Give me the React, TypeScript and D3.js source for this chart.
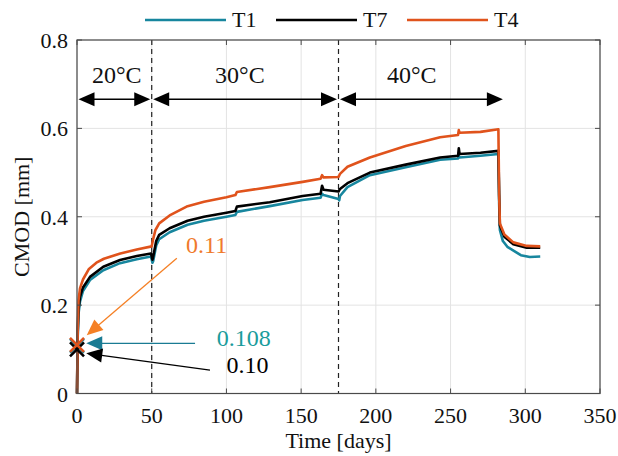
import React from "react";
import * as d3 from "d3";

// ---------- data ----------
const seriesNames = ["T1", "T7", "T4"];
const seriesColors = ["#17869e", "#000000", "#e0531c"];

// [day, CMOD mm]
const t1Data: [number, number][] = [
  [0, 0], [0.5, 0.13], [1, 0.18], [2, 0.208], [4, 0.232], [8.7, 0.257], [17.6, 0.279],
  [28.8, 0.295], [40, 0.304], [49.5, 0.31], [50.5, 0.296], [51, 0.3], [53, 0.335],
  [55, 0.349], [62, 0.365], [74, 0.382], [85, 0.391], [100, 0.4], [106, 0.404],
  [107, 0.411], [129, 0.424], [151, 0.438], [163, 0.443], [164, 0.452], [165, 0.449],
  [175, 0.44], [175.5, 0.437], [176, 0.447], [181, 0.467], [196, 0.494], [220, 0.512],
  [243, 0.529], [255, 0.532], [255.5, 0.538], [256, 0.534], [270, 0.538], [282, 0.542],
  [282.5, 0.43], [283, 0.37], [285, 0.345], [288, 0.332], [297, 0.313], [303, 0.309], [310, 0.31],
];
const t7Data: [number, number][] = [
  [0, 0], [0.5, 0.14], [1, 0.19], [2, 0.219], [4, 0.24], [8.7, 0.264], [17.6, 0.287],
  [28.8, 0.302], [40, 0.311], [49.5, 0.317], [50.5, 0.303], [51, 0.31], [53, 0.345],
  [55, 0.359], [62, 0.374], [74, 0.391], [85, 0.4], [100, 0.409], [106, 0.413],
  [107, 0.423], [129, 0.433], [151, 0.447], [163, 0.452], [164, 0.47], [165, 0.461],
  [175, 0.457], [176, 0.463], [181, 0.476], [196, 0.5], [220, 0.518], [243, 0.534],
  [255, 0.538], [255.5, 0.555], [256, 0.542], [270, 0.545], [282, 0.549], [282.5, 0.45],
  [283, 0.38], [286, 0.355], [292, 0.338], [301, 0.33], [310, 0.33],
];
const t4Data: [number, number][] = [
  [0, 0], [0.5, 0.15], [1, 0.21], [2, 0.238], [4, 0.258], [8, 0.282], [13, 0.296],
  [18, 0.305], [29, 0.317], [40, 0.326], [50, 0.333], [51, 0.35], [52.5, 0.37],
  [55, 0.385], [62, 0.403], [74, 0.424], [85, 0.434], [100, 0.444], [106, 0.449],
  [107, 0.456], [129, 0.467], [151, 0.479], [163, 0.486], [164, 0.494], [165, 0.489],
  [175, 0.49], [176, 0.497], [181, 0.513], [196, 0.534], [220, 0.56], [243, 0.58],
  [255, 0.585], [255.5, 0.596], [256, 0.59], [270, 0.592], [282, 0.598], [282.5, 0.45],
  [283, 0.385], [286, 0.36], [292, 0.342], [301, 0.334], [310, 0.333],
];
const seriesData = [t1Data, t7Data, t4Data];

const xTicks = [0, 50, 100, 150, 200, 250, 300, 350];
const yTicks = [0, 0.2, 0.4, 0.6, 0.8];
const yTickLabels = ["0", "0.2", "0.4", "0.6", "0.8"];

// temperature stages
const stageBounds = [50, 175];
const stageArrows: [number, number][] = [[1, 49], [51, 174], [176, 285]];
const stageLabels = ["20°C", "30°C", "40°C"];
const stageLabelDays = [26.6, 109, 224];
const stageArrowValue = 0.666;
const stageLabelValue = 0.703;

// initial value markers (day, value)
const markerValues = [0.108, 0.1, 0.11];
const markerColors = ["#17869e", "#000000", "#e0531c"];

// annotation arrows: [fromDay, fromVal, toDay, toVal]
const annoArrows: [number, number, number, number][] = [
  [79, 0.1135, 6.2, 0.1135],
  [89, 0.053, 6.2, 0.091],
  [66.8, 0.306, 6.5, 0.132],
];
const annoColors = ["#1a7b93", "#000000", "#f58025"];
const annoTexts = ["0.108", "0.10", "0.11"];
const annoTextColors = ["#1a9c9c", "#000000", "#f07a2c"];
const annoTextPos: [number, number][] = [[93.5, 0.108], [100, 0.047], [73, 0.317]];

// ---------- layout ----------
const W = 618, H = 456;
const M = { left: 77, right: 600, top: 40, bottom: 393.5 };
const FONT = "'Liberation Serif', 'Times New Roman', serif";

function arrowHead(x1: number, y1: number, x2: number, y2: number, len: number, wid: number) {
  const a = Math.atan2(y2 - y1, x2 - x1);
  const bx = x2 - len * Math.cos(a), by = y2 - len * Math.sin(a);
  const px = -Math.sin(a) * wid / 2, py = Math.cos(a) * wid / 2;
  return `M${x2},${y2}L${bx + px},${by + py}L${bx - px},${by - py}Z`;
}

export default function App() {
  const x = d3.scaleLinear().domain([0, 350]).range([M.left, M.right]);
  const y = d3.scaleLinear().domain([0, 0.8]).range([M.bottom, M.top]);
  const line = d3.line<[number, number]>().x(d => x(d[0])).y(d => y(d[1]));
  const axisColor = "#4a4a4a";

  return (
    <svg width={W} height={H} style={{ position: "absolute", left: 0, top: 0, background: "#fff" }}
      fontFamily={FONT}>
      {/* grid */}
      {xTicks.map(t => (
        <line key={"gx" + t} x1={x(t)} x2={x(t)} y1={M.top} y2={M.bottom} stroke="#e3e3e3" strokeWidth={1} />
      ))}
      {yTicks.map(t => (
        <line key={"gy" + t} x1={M.left} x2={M.right} y1={y(t)} y2={y(t)} stroke="#e3e3e3" strokeWidth={1} />
      ))}
      {/* stage boundaries */}
      {stageBounds.map(b => (
        <line key={"sb" + b} x1={x(b)} x2={x(b)} y1={M.top} y2={M.bottom} stroke="#222" strokeWidth={1.2} strokeDasharray="5,4" />
      ))}
      {/* series */}
      {seriesData.map((d, i) => (
        <path key={"s" + i} d={line(d) || ""} fill="none" stroke={seriesColors[i]} strokeWidth={2.6} strokeLinejoin="round" />
      ))}
      {/* box */}
      <rect x={M.left} y={M.top} width={M.right - M.left} height={M.bottom - M.top} fill="none" stroke={axisColor} strokeWidth={1.2} />
      {xTicks.map(t => (
        <g key={"xt" + t}>
          <line x1={x(t)} x2={x(t)} y1={M.bottom} y2={M.bottom - 5} stroke={axisColor} />
          <line x1={x(t)} x2={x(t)} y1={M.top} y2={M.top + 5} stroke={axisColor} />
          <text x={x(t)} y={423} textAnchor="middle" fontSize={22} fill="#111">{t}</text>
        </g>
      ))}
      {yTicks.map((t, i) => (
        <g key={"yt" + t}>
          <line x1={M.left} x2={M.left + 5} y1={y(t)} y2={y(t)} stroke={axisColor} />
          <line x1={M.right} x2={M.right - 5} y1={y(t)} y2={y(t)} stroke={axisColor} />
          <text x={68} y={y(t) + 8} textAnchor="end" fontSize={22} fill="#111">{yTickLabels[i]}</text>
        </g>
      ))}
      <text x={(M.left + M.right) / 2} y={448} textAnchor="middle" fontSize={22} fill="#111">Time [days]</text>
      <text transform={`translate(29,${(M.top + M.bottom) / 2}) rotate(-90)`} textAnchor="middle" fontSize={22} fill="#111">CMOD [mm]</text>

      {/* stage arrows */}
      {stageArrows.map((a, i) => {
        const x1 = x(a[0]), x2 = x(a[1]), yy = y(stageArrowValue);
        return (
          <g key={"sa" + i}>
            <line x1={x1 + 8} x2={x2 - 8} y1={yy} y2={yy} stroke="#000" strokeWidth={1.5} />
            <path d={arrowHead(x2, yy, x1, yy, 16, 14)} fill="#000" />
            <path d={arrowHead(x1, yy, x2, yy, 16, 14)} fill="#000" />
          </g>
        );
      })}
      {stageLabels.map((s, i) => (
        <text key={"sl" + i} x={x(stageLabelDays[i])} y={y(stageLabelValue)} textAnchor="middle" fontSize={24} fill="#111">{s}</text>
      ))}

      {/* annotation arrows */}
      {annoArrows.map((a, i) => {
        const x1 = x(a[0]), y1 = y(a[1]), x2 = x(a[2]), y2 = y(a[3]);
        const ang = Math.atan2(y2 - y1, x2 - x1);
        return (
          <g key={"aa" + i}>
            <line x1={x1} y1={y1} x2={x2 - 10 * Math.cos(ang)} y2={y2 - 10 * Math.sin(ang)} stroke={annoColors[i]} strokeWidth={1.3} />
            <path d={arrowHead(x1, y1, x2, y2, 16, 14)} fill={annoColors[i]} />
          </g>
        );
      })}
      {annoTexts.map((t, i) => (
        <text key={"at" + i} x={x(annoTextPos[i][0])} y={y(annoTextPos[i][1])} fontSize={24} fill={annoTextColors[i]}>{t}</text>
      ))}

      {/* markers */}
      {markerValues.map((v, i) => {
        const cx = x(0), cy = y(v), r = 7;
        return (
          <path key={"mk" + i} d={`M${cx - r},${cy - r}L${cx + r},${cy + r}M${cx - r},${cy + r}L${cx + r},${cy - r}`}
            stroke={markerColors[i]} strokeWidth={2.6} fill="none" />
        );
      })}

      {/* legend */}
      {seriesNames.map((n, i) => {
        const lx = 145 + i * 131;
        return (
          <g key={"lg" + i}>
            <line x1={lx} x2={lx + 81} y1={20} y2={20} stroke={seriesColors[i]} strokeWidth={2.6} />
            <text x={lx + 87} y={27} fontSize={22} fill="#111">{n}</text>
          </g>
        );
      })}
    </svg>
  );
}
